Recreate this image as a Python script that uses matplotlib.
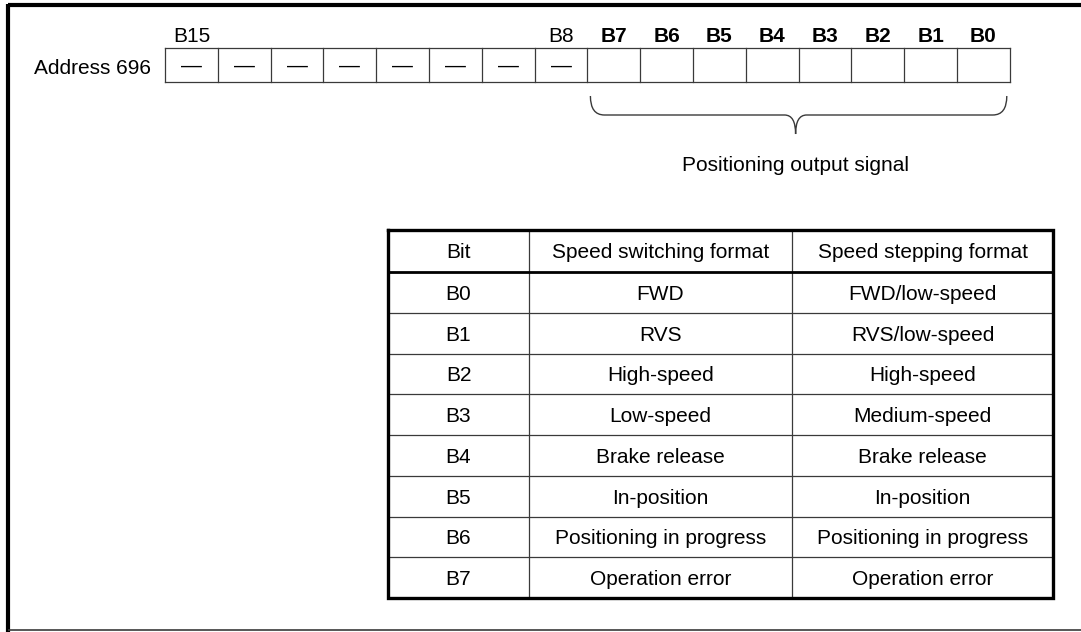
import matplotlib
matplotlib.use("Agg")
import matplotlib.pyplot as plt
from matplotlib.path import Path
from matplotlib.patches import PathPatch

plt.rcParams["font.family"] = ["Liberation Sans", "DejaVu Sans"]

# register layout
address_label = "Address 696"
bit_names = ["B%d" % i for i in range(15, -1, -1)]
shown_names = ["B15", "B8", "B7", "B6", "B5", "B4", "B3", "B2", "B1", "B0"]
bold_names = ["B7", "B6", "B5", "B4", "B3", "B2", "B1", "B0"]
reserved_bits = ["B15", "B14", "B13", "B12", "B11", "B10", "B9", "B8"]
group_label = "Positioning output signal"

# table contents
header = ["Bit", "Speed switching format", "Speed stepping format"]
bits = ["B0", "B1", "B2", "B3", "B4", "B5", "B6", "B7"]
speed_switching = ["FWD", "RVS", "High-speed", "Low-speed", "Brake release",
                   "In-position", "Positioning in progress", "Operation error"]
speed_stepping = ["FWD/low-speed", "RVS/low-speed", "High-speed", "Medium-speed",
                  "Brake release", "In-position", "Positioning in progress",
                  "Operation error"]

W, H = 1081, 632
fig = plt.figure(figsize=(W / 100, H / 100), dpi=100)
ax = fig.add_axes([0, 0, 1, 1])
ax.set_xlim(0, W)
ax.set_ylim(H, 0)
ax.axis("off")

fs = 15
grey = "#3a3a3a"

# outer frame (open on the right)
ax.plot([8, W], [5, 5], color="black", lw=3, solid_capstyle="butt")
ax.plot([8, 8], [3.5, H], color="black", lw=3, solid_capstyle="butt")
ax.plot([8, W], [630, 630], color=grey, lw=1.2, solid_capstyle="butt")

# bit register cells
cell_x0, cell_w = 165, 52.8
cell_top, cell_h = 48, 34
n = len(bit_names)
ax.plot([cell_x0, cell_x0 + n * cell_w], [cell_top, cell_top], color=grey, lw=0.9)
ax.plot([cell_x0, cell_x0 + n * cell_w], [cell_top + cell_h] * 2, color=grey, lw=0.9)
for i in range(n + 1):
    x = cell_x0 + i * cell_w
    ax.plot([x, x], [cell_top, cell_top + cell_h], color=grey, lw=0.9)

for i, name in enumerate(bit_names):
    xc = cell_x0 + (i + 0.5) * cell_w
    if name in shown_names:
        ax.text(xc, 42, name, ha="center", va="baseline", fontsize=fs,
                fontweight="bold" if name in bold_names else "normal")
    if name in reserved_bits:
        ax.text(xc, 72, "\u2014", ha="center", va="baseline", fontsize=fs)

ax.text(151, 74, address_label, ha="right", va="baseline", fontsize=fs)

# brace under B7..B0
first = bit_names.index(bold_names[0])
last = bit_names.index(bold_names[-1])
bx0 = cell_x0 + first * cell_w + 3
bx1 = cell_x0 + (last + 1) * cell_w - 3
bxm = (bx0 + bx1) / 2 - 3
ytop, ymid, ytip = 96, 115, 134
r_end, r_mid = 14, 11
verts = [(bx0, ytop), (bx0, ymid), (bx0 + r_end, ymid),
         (bxm - r_mid, ymid),
         (bxm, ymid), (bxm, ytip),
         (bxm, ymid), (bxm + r_mid, ymid),
         (bx1 - r_end, ymid),
         (bx1, ymid), (bx1, ytop)]
codes = [Path.MOVETO, Path.CURVE3, Path.CURVE3, Path.LINETO,
         Path.CURVE3, Path.CURVE3, Path.CURVE3, Path.CURVE3,
         Path.LINETO, Path.CURVE3, Path.CURVE3]
ax.add_patch(PathPatch(Path(verts, codes), fill=False, edgecolor=grey, lw=1.0))
ax.text(bxm, 171, group_label, ha="center", va="baseline", fontsize=fs)

# table
col_x = [388, 529, 792, 1053]
t_top, head_h, row_h = 230, 42, 40.75
rows = list(zip(bits, speed_switching, speed_stepping))
t_bot = t_top + head_h + len(rows) * row_h

for x in col_x[1:-1]:
    ax.plot([x, x], [t_top, t_bot], color=grey, lw=0.9)
for k in range(1, len(rows)):
    y = t_top + head_h + k * row_h
    ax.plot([col_x[0], col_x[-1]], [y, y], color=grey, lw=0.9)
ax.plot([col_x[0], col_x[-1]], [t_top + head_h] * 2, color="black", lw=2)
ax.plot([col_x[0], col_x[-1], col_x[-1], col_x[0], col_x[0]],
        [t_top, t_top, t_bot, t_bot, t_top], color="black", lw=2.4,
        solid_joinstyle="miter")

def put_row(cells, ymid):
    for j, s in enumerate(cells):
        xc = (col_x[j] + col_x[j + 1]) / 2
        ax.text(xc, ymid + 7.5, s, ha="center", va="baseline", fontsize=fs)

put_row(header, t_top + head_h / 2)
for k, row in enumerate(rows):
    put_row(row, t_top + head_h + (k + 0.5) * row_h)

fig.savefig("out.png", dpi=100, facecolor="white")
